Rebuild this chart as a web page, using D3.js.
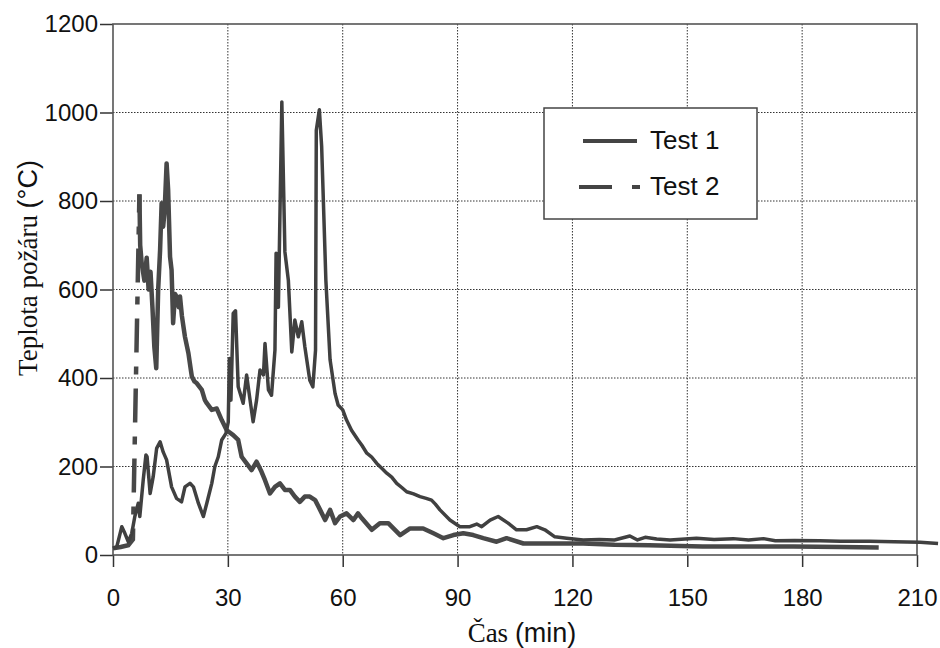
<!DOCTYPE html>
<html>
<head>
<meta charset="utf-8">
<script src="https://cdn.jsdelivr.net/npm/d3@7"></script>
<style>
  body { margin: 0; background: #fff; }
  svg { display: block; }
  .tick text { font-family: "Liberation Sans", Arial, sans-serif; font-size: 24px; fill: #111; }
  .tick line { stroke: #333; stroke-width: 1.5; }
</style>
</head>
<body>
<svg width="940" height="648"></svg>
<script>
// tick labels
const xTicks = [0, 30, 60, 90, 120, 150, 180, 210];
const yTicks = [0, 200, 400, 600, 800, 1000, 1200];

// Test 1 (solid) - time in min, temperature in °C
const t1Time = [0, 1, 2.3, 3.1, 4, 4.9, 5.7, 6.6, 7, 7.9, 8.6, 8.9, 9.7, 10.5, 11.4, 12.3, 13.1, 14, 15.3, 16.6,
  17.9, 18.8, 20.1, 21, 22.3, 23.6, 24.5, 25.8, 26.6, 27.5, 28.4, 29.5, 30.1, 30.4, 30.8, 31.4, 32, 32.7, 34, 34.9,
  35.8, 36.6, 37.5, 38.4, 39.3, 39.7, 40.6, 41.4, 42.3, 42.6, 43.2, 44.1, 44.9, 45.8, 46.7, 47.5, 48.4, 49.3, 50.1, 51.4,
  52.2, 52.9, 53.1, 53.9, 54.5, 55.6, 56.7, 58, 58.8, 60, 61, 62.3, 64, 65, 66.3, 67.5, 68.9, 70.2, 71.5, 72.8,
  74.1, 75.5, 76.7, 78.5, 80.2, 81.8, 83.2, 84.2, 85.4, 88, 90.6, 93.2, 95, 96.3, 98.5, 100.6, 103.2, 105.4, 108, 110.7,
  112.8, 115.4, 118.5, 122.8, 127, 131, 135, 137, 139, 142, 145.5, 152.4, 157, 162, 166, 169.9, 173, 178, 184.6, 190,
  197.7, 204, 210.8, 215.5];
const t1Temp = [15, 19, 64, 49, 30, 49, 87, 117, 87, 170, 226, 222, 139, 177, 241, 256, 233, 215, 154, 128,
  120, 154, 162, 154, 117, 87, 117, 162, 200, 222, 260, 275, 300, 444, 350, 546, 552, 380, 343, 407,
  350, 301, 350, 418, 407, 478, 373, 361, 463, 682, 560, 1024, 685, 621, 459, 531, 493, 527, 471, 395,
  380, 463, 960, 1006, 923, 621, 441, 365, 339, 328, 305, 282, 260, 248, 230, 222, 207, 196, 185, 176,
  162, 152, 143, 138, 132, 128, 124, 115, 102, 79, 64, 64, 70, 64, 79, 87, 72, 57, 57, 64,
  57, 41, 38, 34, 35, 34, 43, 34, 40, 36, 34, 38, 35, 37, 34, 37, 32, 33, 32, 31,
  31, 30, 29, 26];

// Test 2 (dashed)
const t2Time = [0, 2, 4, 5.2, 6.9, 7.1, 7.5, 8.2, 8.8, 9.3, 9.8, 10.3, 10.8, 11.3, 11.8, 12.3, 12.7, 13.1, 13.5, 14,
  14.4, 14.9, 15.3, 15.7, 16.2, 16.6, 17.2, 17.5, 18, 18.4, 18.8, 19.7, 20.3, 20.6, 21.3, 21.9, 23.2, 24, 24.5, 25.8,
  27.1, 28.4, 29.7, 31.4, 32.7, 33.6, 34.9, 36.2, 37.5, 38.8, 39.7, 41, 42.3, 43.6, 44.9, 46.2, 47.5, 48.8, 50.1, 51.4,
  52.8, 54.1, 55.4, 56.7, 58, 59.3, 61, 62.8, 64, 65, 67.6, 69.7, 71.9, 75, 77.6, 81, 83.7, 86.3, 88.9, 91.5,
  94.1, 96.7, 100.2, 102.8, 107.2, 112, 122.8, 131, 140, 154, 164, 177.7, 190, 200];
const t2Temp = [15, 18, 22, 35, 815, 700, 659, 620, 672, 600, 640, 560, 470, 422, 600, 689, 795, 742, 780, 885,
  825, 674, 644, 524, 590, 584, 560, 584, 540, 516, 493, 456, 420, 403, 392, 388, 373, 350, 343, 328,
  331, 305, 282, 271, 260, 222, 207, 192, 211, 188, 169, 139, 154, 162, 147, 147, 132, 120, 132, 132,
  124, 102, 79, 102, 72, 87, 94, 79, 94, 83, 57, 72, 72, 45, 60, 60, 49, 38, 45, 49,
  45, 38, 30, 38, 26, 26, 26, 23, 22, 19, 19, 19, 18, 17];

const svg = d3.select("svg");
const plotLeft = 113, plotRight = 917, plotTop = 24, plotBottom = 555;

const xScale = d3.scaleLinear().domain([0, 210]).range([plotLeft, plotRight]);
const yScale = d3.scaleLinear().domain([0, 1200]).range([plotBottom, plotTop]);

// dotted grid
const grid = svg.append("g").attr("stroke", "#333").attr("stroke-width", 1).attr("stroke-dasharray", "1.5,1.5");
grid.selectAll(".gx").data(xTicks.slice(1, -1)).enter().append("line")
  .attr("x1", d => xScale(d)).attr("x2", d => xScale(d))
  .attr("y1", plotTop).attr("y2", plotBottom);
grid.selectAll(".gy").data(yTicks.slice(1, -1)).enter().append("line")
  .attr("x1", plotLeft).attr("x2", plotRight)
  .attr("y1", d => yScale(d)).attr("y2", d => yScale(d));

// axes
svg.append("g")
  .attr("transform", "translate(" + plotLeft + ",0)")
  .call(d3.axisLeft(yScale).tickValues(yTicks).tickFormat(d3.format("d")).tickSize(13).tickPadding(2))
  .call(g => g.select(".domain").remove());

svg.append("g")
  .attr("transform", "translate(0," + plotBottom + ")")
  .call(d3.axisBottom(xScale).tickValues(xTicks).tickFormat(d3.format("d")).tickSize(12).tickPadding(22))
  .call(g => g.select(".domain").remove());

// plot box
svg.append("rect")
  .attr("x", plotLeft).attr("y", plotTop)
  .attr("width", plotRight - plotLeft).attr("height", plotBottom - plotTop)
  .attr("fill", "none").attr("stroke", "#555").attr("stroke-width", 1.6);

const line = d3.line().x(d => xScale(d[0])).y(d => yScale(d[1]));
const test1 = d3.zip(t1Time, t1Temp);
const test2 = d3.zip(t2Time, t2Temp);

// Test 2: dashed rise, then the dense record reads as solid
svg.append("path").datum(test2.slice(0, 5))
  .attr("d", line).attr("fill", "none")
  .attr("stroke", "#484848").attr("stroke-width", 4.5)
  .attr("stroke-dasharray", "34,14,8,14");
svg.append("path").datum(test2.slice(4))
  .attr("d", line).attr("fill", "none")
  .attr("stroke", "#484848").attr("stroke-width", 4.5)
  .attr("stroke-linejoin", "round");

svg.append("path").datum(test1)
  .attr("d", line).attr("fill", "none")
  .attr("stroke", "#404040").attr("stroke-width", 3.5)
  .attr("stroke-linejoin", "round");

// legend
const legend = svg.append("g");
legend.append("rect")
  .attr("x", 544).attr("y", 108).attr("width", 213).attr("height", 111)
  .attr("fill", "#fff").attr("stroke", "#444").attr("stroke-width", 1.5);
legend.append("line").attr("x1", 583).attr("x2", 637).attr("y1", 141).attr("y2", 141)
  .attr("stroke", "#444").attr("stroke-width", 4);
legend.append("line").attr("x1", 579).attr("x2", 640).attr("y1", 187).attr("y2", 187)
  .attr("stroke", "#444").attr("stroke-width", 4).attr("stroke-dasharray", "33,20,8,20");
legend.selectAll("text").data(["Test 1", "Test 2"]).enter().append("text")
  .attr("x", 650).attr("y", (d, i) => 149 + i * 46)
  .style("font-family", "Liberation Sans, Arial, sans-serif")
  .style("font-size", "26px").style("fill", "#111")
  .text(d => d);

// axis titles
const xTitle = svg.append("text")
  .attr("x", 522).attr("y", 642).attr("text-anchor", "middle")
  .style("font-size", "27px").style("fill", "#111");
xTitle.append("tspan").style("font-family", "Liberation Serif, Times New Roman, serif").text("Čas ");
xTitle.append("tspan").style("font-family", "Liberation Sans, Arial, sans-serif").text("(min)");

const yTitle = svg.append("text")
  .attr("transform", "translate(37,268) rotate(-90)").attr("text-anchor", "middle")
  .style("font-size", "27px").style("fill", "#111");
yTitle.append("tspan").style("font-family", "Liberation Serif, Times New Roman, serif").text("Teplota požáru ");
yTitle.append("tspan").style("font-family", "Liberation Sans, Arial, sans-serif").text("(°C)");
</script>
</body>
</html>
